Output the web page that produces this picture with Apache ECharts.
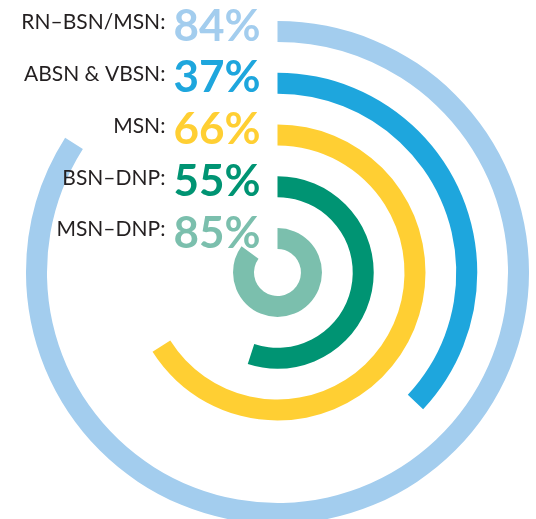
<!DOCTYPE html>
<html>
<head>
<meta charset="utf-8">
<style>
  html, body { margin: 0; padding: 0; background: #fff; }
  #chart { width: 536px; height: 519px; }
</style>
<script src="https://cdn.jsdelivr.net/npm/echarts@6/dist/echarts.min.js"></script>
</head>
<body>
<div id="chart"></div>
<script>
// rings from the inside out
var categories = ['MSN–DNP', 'BSN–DNP', 'MSN', 'ABSN & VBSN', 'RN–BSN/MSN'];
var values = [85, 55, 66, 37, 84];
var colors = ['#7bbfad', '#009473', '#ffcf33', '#1ea6dd', '#a3cdee'];

var myChart = echarts.init(document.getElementById('chart'));

// label + big percent, the label sits a bit higher than the number
var rich = {
    l: { fontFamily: 'Lato', fontSize: 21, color: '#231f20', padding: [0, 8, 18, 0] }
};
for (var i = 0; i < colors.length; i++) {
    rich['v' + i] = { fontFamily: 'Lato', fontSize: 44, fontWeight: 'bold', color: colors[i], padding: [0, 0, 10, 0] };
}

var option = {
    backgroundColor: '#fff',
    polar: {
        center: [277.5, 272.5],
        radius: [8.1, 266.9]
    },
    angleAxis: {
        max: 100,
        startAngle: 90,
        clockwise: true,
        show: false
    },
    radiusAxis: {
        type: 'category',
        data: categories,
        axisLine: { show: false },
        axisTick: { show: false },
        splitLine: { show: false },
        axisLabel: {
            show: true,
            interval: 0,
            hideOverlap: false,
            margin: 17,
            formatter: function (val, idx) {
                return '{l|' + val + ':}{v' + idx + '|' + values[idx] + '%}';
            },
            rich: rich
        },
        z: 10
    },
    series: [{
        type: 'bar',
        coordinateSystem: 'polar',
        data: values.map(function (v, i) {
            return { value: v, itemStyle: { color: colors[i] } };
        }),
        barWidth: 21,
        animation: false
    }]
};
myChart.setOption(option);
</script>
</body>
</html>
